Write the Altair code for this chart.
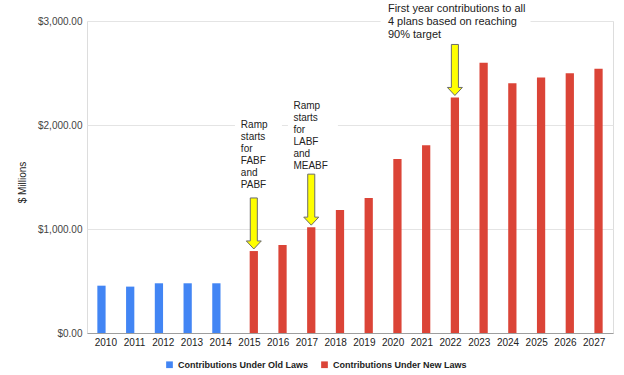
import altair as alt
import pandas as pd

# ---------------- data ----------------
years = [str(y) for y in range(2010, 2028)]
old_years = ["2010", "2011", "2012", "2013", "2014"]
old_values = [455, 446, 478, 478, 478]
new_years = [str(y) for y in range(2015, 2028)]
new_values = [788, 845, 1017, 1183, 1298, 1672, 1806, 2264, 2599, 2402, 2456, 2498, 2542]
series_names = ["Contributions Under Old Laws", "Contributions Under New Laws"]
series_colors = ["#4285F4", "#DB4437"]
y_ticks = [0, 1000, 2000, 3000]

arrow_years = ["2015", "2017", "2022"]
annotation_years = ["2015", "2017", "2022"]
annotation_texts = [
    "Ramp\nstarts\nfor\nFABF\nand\nPABF",
    "Ramp\nstarts\nfor\nLABF\nand\nMEABF",
    "First year contributions to all\n4 plans based on reaching\n90% target",
]
annotation_y = [2052, 2235, 3175]

# ---------------- tables ----------------
rows = []
for yr, v in zip(old_years, old_values):
    rows.append({"year": yr, "series": series_names[0], "value": v})
for yr, v in zip(new_years, new_values):
    rows.append({"year": yr, "series": series_names[1], "value": v})
bars_df = pd.DataFrame(rows)

new_lookup = dict(zip(new_years, new_values))
arrow_df = pd.DataFrame({
    "year": arrow_years,
    "series": [series_names[1]] * len(arrow_years),
    "tip": [new_lookup[y] + 20 for y in arrow_years],
})

FONT = "Liberation Sans"

x_enc = alt.X(
    "year:O",
    title=None,
    scale=alt.Scale(domain=years, paddingInner=0.41, paddingOuter=0.36),
    axis=alt.Axis(labelAngle=0, ticks=False, tickSize=0, domainColor="#9e9e9e",
                  labelFontSize=10, labelColor="#222222", labelPadding=4,
                  labelFont=FONT, grid=False, bandPosition=0.5, labelAlign="center"),
)
y_scale = alt.Scale(domain=[0, 3000], nice=False, zero=True)
y_enc = alt.Y(
    "value:Q",
    title="$ Millions",
    scale=y_scale,
    axis=alt.Axis(values=y_ticks, format="$,.2f", domain=False, ticks=False, tickSize=0,
                  gridColor="#e4e4e4", labelFontSize=10, labelColor="#444444",
                  labelPadding=5, labelFont=FONT, titleFont=FONT, titleFontSize=10,
                  titleFontWeight="normal", titleColor="#222222", titleAngle=-90,
                  titleX=-65, titleY=161, titleAlign="center", titleBaseline="middle"),
)
xoff_enc = alt.XOffset("series:N", scale=alt.Scale(domain=series_names, paddingInner=0.05))

bars = alt.Chart(bars_df).mark_bar().encode(
    x=x_enc,
    xOffset=xoff_enc,
    y=y_enc,
    color=alt.Color(
        "series:N",
        scale=alt.Scale(domain=series_names, range=series_colors),
        legend=alt.Legend(
            title=None, orient="none", legendX=78, legendY=339, direction="horizontal",
            symbolType="square", symbolSize=45, symbolStrokeWidth=0,
            labelFontSize=9, labelFontWeight="bold", labelColor="#222222",
            labelFont=FONT, columnPadding=12, labelOffset=4,
        ),
    ),
)

# white boxes behind annotation texts (interrupt the gridlines)
box_specs = [
    ("2015", 2000, 47, 9),
    ("2017", 2000, 50, 6),
    ("2022", 3000, 150, 5),
]
boxes = []
for yr, grid_val, w, off in box_specs:
    bdf = pd.DataFrame({"year": [yr], "y0": [grid_val - 40], "y1": [grid_val + 40]})
    boxes.append(
        alt.Chart(bdf).mark_bar(color="white", size=w, xOffset=off).encode(
            x=x_enc, y=alt.Y("y0:Q"), y2="y1:Q"
        )
    )

arrow_path = "M-0.47,-6.8 L0.47,-6.8 L0.47,-1.07 L1,-1.07 L0,0 L-1,-1.07 L-0.47,-1.07 Z"
arrows = alt.Chart(arrow_df).mark_point(
    shape=arrow_path, size=225, filled=True, fill="#FFFF00", stroke="#6b6b6b",
    strokeWidth=1, opacity=1,
).encode(
    x=x_enc,
    xOffset=alt.XOffset("series:N"),
    y=alt.Y("tip:Q"),
)

text_specs = [(-8.6, 10, 12), (-13.5, 10, 12), (-62.6, 11, 13)]
texts = []
for (yr, txt, ty), (dx, fs, lh) in zip(zip(annotation_years, annotation_texts, annotation_y), text_specs):
    tdf = pd.DataFrame({"year": [yr], "ty": [ty], "label": [txt]})
    texts.append(
        alt.Chart(tdf).mark_text(
            align="left", baseline="top", dx=dx, fontSize=fs, lineBreak="\n",
            lineHeight=lh, font=FONT, color="#222222",
        ).encode(x=x_enc, y=alt.Y("ty:Q"), text="label:N")
    )

chart = alt.layer(bars, *boxes, arrows, *texts).properties(
    width=526,
    height=312,
    autosize=alt.AutoSizeParams(type="none"),
    padding={"left": 87, "top": 21, "right": 11, "bottom": 42},
).configure_view(stroke=None).configure(font=FONT)

chart.save("out.html", embed_options={"renderer": "svg", "actions": False})
